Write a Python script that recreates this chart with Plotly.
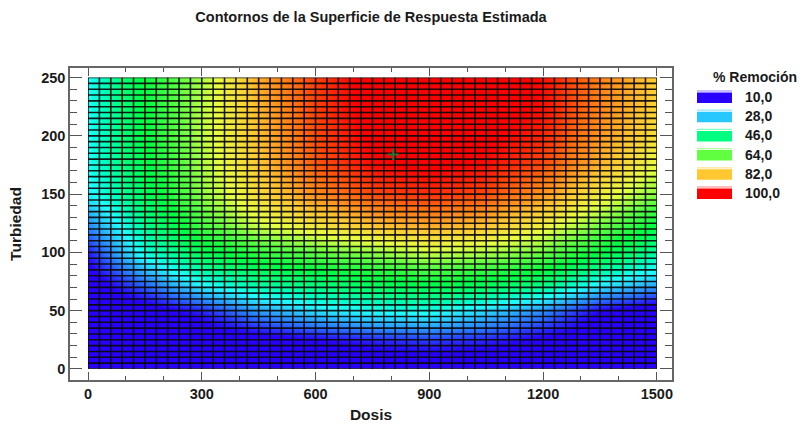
import numpy as np
import plotly.graph_objects as go

# ---------------- data ----------------
dosis = [0, 150, 300, 450, 600, 750, 900, 1050, 1200, 1350, 1500]
turbiedad = [0, 25, 50, 75, 100, 125, 150, 175, 200, 225, 250]

# % Remocion estimated at (turbiedad row, dosis column)
rem_t000 = [2, 2, 2, 3, 3, 4, 4, 4, 3, 2, 1]
rem_t025 = [3, 4, 5, 7, 10, 13, 15, 13, 9, 5, 3]
rem_t050 = [3, 6, 13, 24, 31, 35, 36, 30, 22, 10, 5]
rem_t075 = [6, 20, 36, 45, 49, 53, 56, 54, 49, 35, 27]
rem_t100 = [12, 37, 52, 60, 64, 67, 71, 69, 65, 55, 43]
rem_t125 = [22, 45, 62, 72, 78, 83, 86, 83, 76, 66, 55]
rem_t150 = [32, 51, 67, 79, 88, 94, 96, 94, 87, 76, 66]
rem_t175 = [35, 53, 69, 82, 93, 99, 101, 99, 94, 84, 73]
rem_t200 = [34, 55, 70, 83, 94, 101, 103, 101, 97, 87, 78]
rem_t225 = [35, 55, 70, 84, 95, 102, 104, 103, 99, 89, 80]
rem_t250 = [34, 56, 69, 85, 95, 102, 105, 103, 99, 89, 81]

optimo_dosis = [805]
optimo_turbiedad = [184]

legend_levels = [10, 28, 46, 64, 82, 100]

stop_values = [10, 19, 28, 34, 40, 46, 55, 64, 73, 82, 91, 100]
stop_colors = ["#2800ff", "#2870ff", "#28c8ff", "#20ffff", "#00ffc0", "#00ff80",
               "#00ff40", "#60ff40", "#e8ff40", "#ffc830", "#ff7010", "#ff0000"]

x_ticks = [0, 300, 600, 900, 1200, 1500]
y_ticks = [0, 50, 100, 150, 200, 250]

# ---------------- build figure ----------------
z = [rem_t000, rem_t025, rem_t050, rem_t075, rem_t100, rem_t125,
     rem_t150, rem_t175, rem_t200, rem_t225, rem_t250]
zmin, zmax = stop_values[0], stop_values[-1]
colorscale = [[(v - zmin) / (zmax - zmin), c] for v, c in zip(stop_values, stop_colors)]

W, H = 802, 424
ML, MR, MT, MB = 70, 130, 68, 44
PW, PH = W - ML - MR, H - MT - MB

xr = [-47.5, 1540]
yr = [-9.5, 258.2]
x0d, x1d = dosis[0], dosis[-1]
y0d, y1d = turbiedad[0], turbiedad[-1]
dom2x = [(x0d - xr[0]) / (xr[1] - xr[0]), (x1d - xr[0]) / (xr[1] - xr[0])]
dom2y = [(y0d - yr[0]) / (yr[1] - yr[0]), (y1d - yr[0]) / (yr[1] - yr[0])]

FONT = "Liberation Sans, Arial, sans-serif"
TXT = "#1a1a1a"

fig = go.Figure()

# invisible trace for main (frame) axes
fig.add_trace(go.Scatter(x=[None], y=[None], xaxis="x", yaxis="y",
                         showlegend=False, hoverinfo="skip"))

fig.add_trace(go.Heatmap(x=dosis, y=turbiedad, z=z, zsmooth="best",
                         colorscale=colorscale, zmin=zmin, zmax=zmax,
                         showscale=False, xaxis="x2", yaxis="y2", hoverinfo="skip"))

# cell grid
step_x = (x1d - x0d) / 50
step_y = (y1d - y0d) / 50
gx, gy = [], []
for xv in np.arange(x0d, x1d + step_x / 2, step_x):
    gx += [xv, xv, None]
    gy += [y0d, y1d, None]
for yv in np.arange(y0d, y1d + step_y / 2, step_y):
    gx += [x0d, x1d, None]
    gy += [yv, yv, None]
fig.add_trace(go.Scatter(x=gx, y=gy, mode="lines", xaxis="x2", yaxis="y2",
                         line=dict(color="rgba(10,10,10,0.92)", width=1.6),
                         showlegend=False, hoverinfo="skip"))

fig.add_trace(go.Scatter(x=optimo_dosis, y=optimo_turbiedad, mode="markers",
                         xaxis="x2", yaxis="y2",
                         marker=dict(symbol="cross-thin", size=8,
                                     line=dict(color="#2f6f2f", width=2)),
                         showlegend=False, hoverinfo="skip"))

tickfont = dict(family=FONT, size=14.5, color=TXT, weight="bold")
fig.update_layout(
    width=W, height=H, margin=dict(l=ML, r=MR, t=MT, b=MB, autoexpand=False),
    paper_bgcolor="white", plot_bgcolor="white", showlegend=False,
    title=dict(text="Contornos de la Superficie de Respuesta Estimada",
               x=0.5, xref="paper", xanchor="center",
               y=1 - 17 / H, yref="container", yanchor="middle",
               font=dict(family=FONT, size=14.5, color=TXT, weight="bold")),
    xaxis=dict(range=xr, tickvals=x_ticks, ticks="inside", ticklen=8, tickwidth=1.2,
               tickcolor="#555", showline=True, linecolor="#666", linewidth=1.5,
               mirror="allticks", showgrid=False, zeroline=False, tickfont=tickfont,
               automargin=False,
               minor=dict(ticks="inside", dtick=100, ticklen=4, tickcolor="#555", tickwidth=1.2),
               title=dict(text="Dosis", standoff=8,
                          font=dict(family=FONT, size=15.5, color=TXT, weight="bold"))),
    yaxis=dict(range=yr, tickvals=y_ticks, ticks="inside", ticklen=12, tickwidth=1.2,
               tickcolor="#555", showline=True, linecolor="#666", linewidth=1.5,
               mirror="allticks", showgrid=False, zeroline=False, tickfont=tickfont,
               automargin=False,
               minor=dict(ticks="inside", dtick=10, ticklen=7, tickcolor="#555", tickwidth=1.2),
               title=dict(text="Turbiedad", standoff=16,
                          font=dict(family=FONT, size=15.5, color=TXT, weight="bold"))),
    xaxis2=dict(domain=dom2x, range=[x0d, x1d], anchor="y2", visible=False),
    yaxis2=dict(domain=dom2y, range=[y0d, y1d], anchor="x2", visible=False),
)

# ---------------- manual legend ----------------
def px_x(p):
    return (p - ML) / PW

def px_y(p):
    return 1 - (p - MT) / PH

def lighten(hexc, f):
    r, g, b = int(hexc[1:3], 16), int(hexc[3:5], 16), int(hexc[5:7], 16)
    r, g, b = [int(c + (255 - c) * f) for c in (r, g, b)]
    return f"rgb({r},{g},{b})"

fig.add_annotation(text="% Remoción", xref="paper", yref="paper",
                   x=px_x(755), y=px_y(77), xanchor="center", yanchor="middle",
                   showarrow=False,
                   font=dict(family=FONT, size=14, color=TXT, weight="bold"))
for i, lv in enumerate(legend_levels):
    col = stop_colors[stop_values.index(lv)]
    cy = 97 + i * 19.2
    fig.add_shape(type="rect", xref="paper", yref="paper",
                  x0=px_x(697), x1=px_x(732), y0=px_y(cy - 4.5), y1=px_y(cy + 6),
                  fillcolor=col, line=dict(width=0))
    fig.add_shape(type="line", xref="paper", yref="paper",
                  x0=px_x(697), x1=px_x(732), y0=px_y(cy - 6), y1=px_y(cy - 6),
                  line=dict(color=lighten(col, 0.5), width=1.2))
    fig.add_annotation(text=f"{lv:.1f}".replace(".", ","), xref="paper", yref="paper",
                       x=px_x(743), y=px_y(cy), xanchor="left", yanchor="middle",
                       showarrow=False,
                       font=dict(family=FONT, size=14, color=TXT, weight="bold"))

fig.write_html("out.html")
